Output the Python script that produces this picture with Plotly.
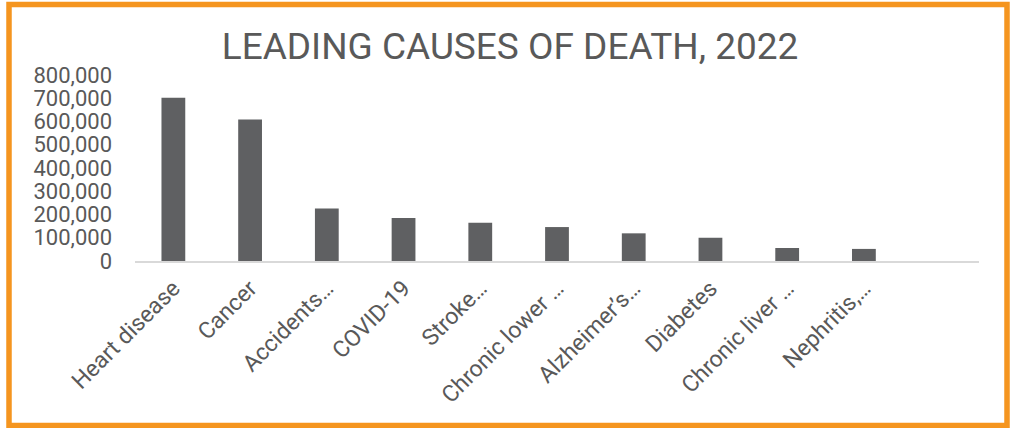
import plotly.graph_objects as go

categories = ["Heart disease", "Cancer", "Accidents…", "COVID-19", "Stroke…",
              "Chronic lower …", "Alzheimer’s…", "Diabetes", "Chronic liver …", "Nephritis,…"]
deaths = [702000, 609000, 226000, 185000, 165000, 146000, 119000, 100000, 56000, 52000]
y_ticks = [0, 100000, 200000, 300000, 400000, 500000, 600000, 700000, 800000]
y_tick_labels = ["0", "100,000", "200,000", "300,000", "400,000", "500,000",
                 "600,000", "700,000", "800,000"]
title_text = "LEADING CAUSES OF DEATH, 2022"

W, H = 1010, 428
L, R, T, B = 135, 31, 75, 167

fig = go.Figure(go.Bar(
    x=categories, y=deaths,
    marker=dict(color="#5f6062", line=dict(width=0)),
))

pw = W - L - R
ph = H - T - B
def px_x(x):
    return (x - L) / pw
def px_y(y):
    return 1 - (y - T) / ph

fig.update_layout(
    width=W, height=H,
    margin=dict(l=L, r=R, t=T, b=B, pad=0),
    paper_bgcolor="white", plot_bgcolor="white",
    font=dict(family="Roboto", color="#595959", size=22),
    bargap=0.69,
    showlegend=False,
    title=dict(text=title_text, font=dict(family="Roboto", size=37, color="#595959"),
               x=0.505, xanchor="center", y=1 - 46 / H, yanchor="middle"),
    xaxis=dict(type="category", range=[-0.5, 10.5], showgrid=False,
               showline=True, linecolor="#d9d9d9", linewidth=1.5,
               ticks="", tickangle=-45, tickfont=dict(size=23, color="#595959"),
               ticklabelstandoff=3, zeroline=False),
    yaxis=dict(range=[0, 800000], tickvals=y_ticks, ticktext=y_tick_labels,
               showgrid=False, showline=False, zeroline=False, ticks="",
               tickfont=dict(size=22, color="#595959"), ticklabelstandoff=22),
    shapes=[dict(type="rect", xref="paper", yref="paper",
                 x0=px_x(9), x1=px_x(1007), y0=px_y(4.5), y1=px_y(425.5),
                 line=dict(color="#F5951F", width=5.5), fillcolor="rgba(0,0,0,0)",
                 layer="above")],
)

fig.write_html("out.html")
